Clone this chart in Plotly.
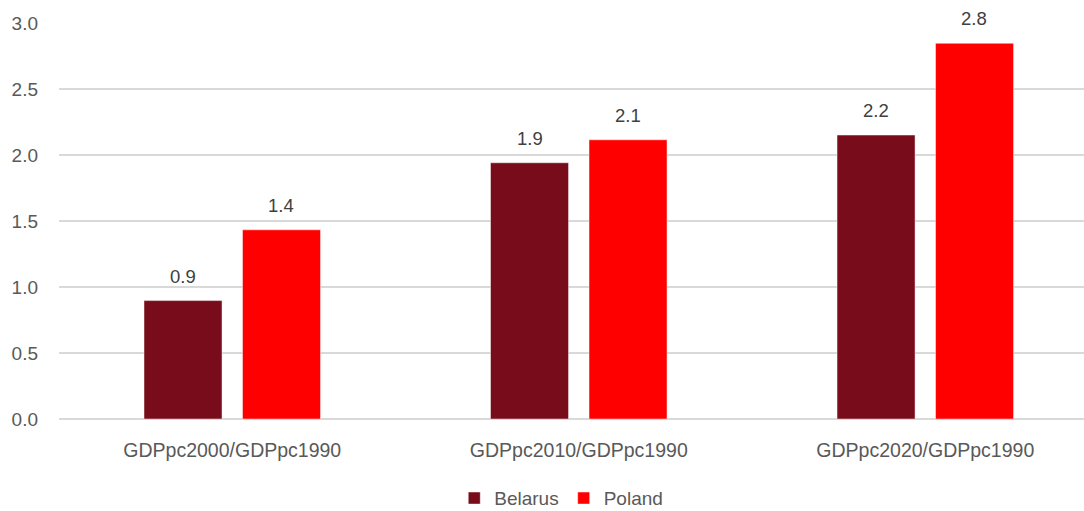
import plotly.graph_objects as go

categories = ["GDPpc2000/GDPpc1990", "GDPpc2010/GDPpc1990", "GDPpc2020/GDPpc1990"]
belarus = [0.897, 1.941, 2.151]
poland = [1.433, 2.115, 2.846]
yticks = [0.0, 0.5, 1.0, 1.5, 2.0, 2.5, 3.0]

FONT = "Liberation Sans"
BEL_COLOR = "#780C1A"
POL_COLOR = "#FF0000"

fig = go.Figure()
fig.add_trace(go.Bar(name="Belarus", x=categories, y=belarus,
                     marker=dict(color=BEL_COLOR, line=dict(color="rgba(255,255,255,0.6)", width=0.75))))
fig.add_trace(go.Bar(name="Poland", x=categories, y=poland,
                     marker=dict(color=POL_COLOR, line=dict(color="rgba(255,255,255,0.6)", width=0.75))))

# data labels
for vals, shift in ((belarus, -49), (poland, 49)):
    for c, v in zip(categories, vals):
        fig.add_annotation(x=c, y=v, text=f"{v:.1f}", showarrow=False,
                           xshift=shift, yshift=12, yanchor="bottom",
                           font=dict(family=FONT, size=18.5, color="#404040"))

fig.update_layout(
    width=1084, height=511,
    margin=dict(l=59, r=0, t=23, b=92, autoexpand=False),
    paper_bgcolor="white", plot_bgcolor="white",
    barmode="group", bargap=0.4315, bargroupgap=0.208,
    font=dict(family=FONT, size=19, color="#595959"),
    legend=dict(orientation="h", x=0.49, xanchor="center", y=-0.2, yanchor="middle",
                font=dict(family=FONT, size=19, color="#595959"), traceorder="normal",
                itemwidth=30),
    showlegend=True,
)
fig.update_yaxes(range=[0, 3.0], tickvals=yticks, ticktext=[f"{t:.1f}" for t in yticks],
                 showgrid=True, gridcolor="#D9D9D9", gridwidth=1.5,
                 zeroline=True, zerolinecolor="#D9D9D9", zerolinewidth=1.5,
                 showline=False, ticks="", ticklabelstandoff=20, automargin=False,
                 tickfont=dict(family=FONT, size=19, color="#595959"))
fig.update_xaxes(range=[-0.5, 2.458], showgrid=False, showline=False, ticks="",
                 ticklabelstandoff=17, automargin=False,
                 tickfont=dict(family=FONT, size=19.5, color="#595959"))

fig.write_html("out.html", config={"displayModeBar": False},
               post_script="document.body.style.margin='0';")
